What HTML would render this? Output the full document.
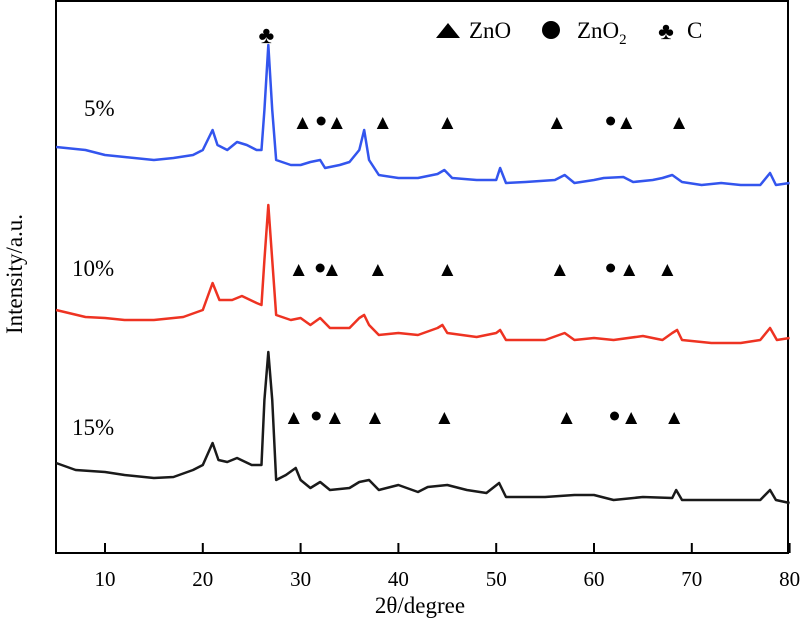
<!DOCTYPE html>
<html><head><meta charset="utf-8"><style>
html,body{margin:0;padding:0;background:#fff;}
svg{display:block;font-family:"Liberation Serif",serif;}
</style></head><body>
<svg id="chart" width="800" height="628" xmlns="http://www.w3.org/2000/svg">
<g id="plot"></g>
<g font-size="23">
 <polygon points="436,38 460,38 448,23" fill="#000"/>
 <text x="469" y="38">ZnO</text>
 <circle cx="551" cy="30" r="9" fill="#000"/>
 <text x="577" y="38">ZnO<tspan font-size="15" dy="6">2</tspan></text>
 <text x="666" y="39" text-anchor="middle" font-size="24">♣</text>
 <text x="687" y="38">C</text>
</g>
</svg>
<script>
const xTicks=[10,20,30,40,50,60,70,80];
const blueX=[5,8,10,12,15,17,19,20,21,21.5,22.5,23.5,24.5,25.5,26,26.3,26.7,27.1,27.5,29,30,31,32,32.5,34,35,36,36.5,37,38,40,42,44,44.7,45.5,48,50,50.4,51,53,56,57,58,60,61,63,64,66,67,68,69,71,73,75,77,78,78.6,80];
const blueY=[406,403,398,396,393,395,398,403,423,408,403,411,408,403,403,443,508,443,393,388,388,391,393,385,388,391,403,423,393,378,375,375,379,383,375,373,373,385,370,371,373,378,370,373,375,376,371,373,375,378,371,368,370,368,368,380,368,370];
const redX=[5,8,10,12,15,18,20,21,21.7,23,24,25.5,26,26.3,26.7,27.1,27.5,29,30,31,32,33,35,36,36.5,37,38,40,42,44,44.5,45,48,50,50.4,51,55,57,58,60,62,65,67,68,68.5,69,72,75,77,78,78.7,80];
const redY=[243,236,235,233,233,236,243,270,253,253,257,250,248,293,348,293,238,233,235,228,235,225,225,235,238,228,218,220,218,225,228,220,216,220,223,213,213,220,213,215,213,217,213,220,223,213,210,210,213,225,213,215];
const blackX=[5,7,10,12,15,17,19,20,21,21.6,22.5,23.5,25,26,26.3,26.7,27.1,27.5,28.5,29.5,30,31,32,33,35,36,37,38,40,42,43,45,47,49,50.3,51,55,58,60,62,65,68,68.4,69,72,75,77,78,78.6,80];
const blackY=[90,83,81,78,75,76,83,88,110,93,91,95,88,88,153,201,153,73,78,85,73,65,71,63,65,71,73,63,68,61,66,68,63,60,70,56,56,58,58,53,56,55,63,53,53,53,53,63,53,50];
const triRows=[[30.2,33.7,38.4,45.0,56.2,63.3,68.7],[29.8,33.2,37.9,45.0,56.5,63.6,67.5],[29.3,33.5,37.6,44.7,57.2,63.8,68.2]];
const circRows=[[32.1,61.7],[32.0,61.7],[31.6,62.1]];
const rowLevel=[430,283,135];
const NS="http://www.w3.org/2000/svg";
const L=56,R=788,T=1,B=553;
function xs(v){return 105+(v-10)*9.78;}
function ys(v){return B-v;}
const g=document.getElementById('plot');
function el(t,a,p){const e=document.createElementNS(NS,t);for(const k in a)e.setAttribute(k,a[k]);(p||g).appendChild(e);return e;}
const frame=el('rect',{x:L,y:T,width:R-L,height:B-T,fill:'none',stroke:'#000','stroke-width':2});


xTicks.forEach(t=>{
 const ln=el('line',{x1:xs(t),x2:xs(t),y1:B,y2:B-10,stroke:'#000','stroke-width':2});
 
 
 const tx=el('text',{x:xs(t),y:586,'text-anchor':'middle','font-size':21});
 tx.textContent=t;
 
 
});
function series(X,Y,c,name){
 const p=el('polyline',{points:X.map((x,i)=>xs(x)+','+ys(Y[i])).join(' '),fill:'none',stroke:c,'stroke-width':2.5,'stroke-linejoin':'round'});
 
 
}
series(blueX,blueY,'#3355ee','series-5pct');
series(redX,redY,'#ee3322','series-10pct');
series(blackX,blackY,'#1a1a1a','series-15pct');
triRows.forEach((row,r)=>{row.forEach(v=>{
 const x=xs(v),y=ys(rowLevel[r]);
 const t=el('polygon',{points:`${x-6},${y+6} ${x+6},${y+6} ${x},${y-6}`,fill:'#000'});
 
 
});});
circRows.forEach((row,r)=>{row.forEach(v=>{
 const c=el('circle',{cx:xs(v),cy:ys(rowLevel[r])-2,r:4.5,fill:'#000'});
 
 
});});
const club=el('text',{x:xs(26.5),y:43,'text-anchor':'middle','font-size':24});
club.textContent='♣';


</script>
<div style="position:absolute;left:0;top:0;width:800px;height:628px;pointer-events:none;font-family:'Liberation Serif',serif;">
 <div style="position:absolute;left:84px;top:96px;font-size:23px;">5%</div>
 <div style="position:absolute;left:72px;top:256px;font-size:23px;">10%</div>
 <div style="position:absolute;left:72px;top:415px;font-size:23px;">15%</div>
 <div style="position:absolute;left:320px;width:200px;text-align:center;top:593px;font-size:23px;">2θ/degree</div>
 <div style="position:absolute;left:-85px;top:261px;width:200px;text-align:center;font-size:23px;transform:rotate(-90deg);">Intensity/a.u.</div>
</div>
</body></html>
